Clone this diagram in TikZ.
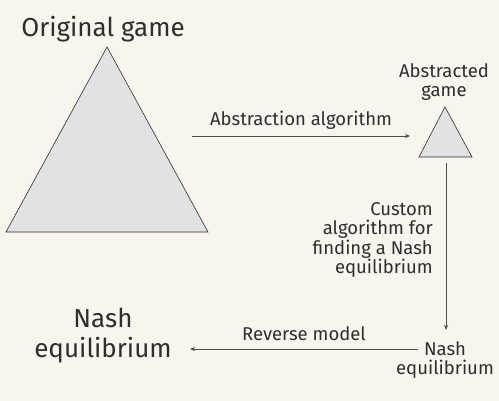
\documentclass[tikz,border=0pt]{standalone}
\usepackage{fontspec}
\setmainfont{Fira Sans}
\usetikzlibrary{arrows.meta}
\definecolor{paper}{HTML}{F8F5EE}
\definecolor{gamefill}{HTML}{E2E2E4}
\definecolor{ink}{HTML}{2E2E2E}
\begin{document}
\begin{tikzpicture}[x=1pt,y=-1pt,
  big/.style={font=\fontsize{26}{30}\selectfont, align=center, inner sep=0pt, text=ink},
  small/.style={font=\fontsize{18.5}{19.3}\selectfont, align=center, inner sep=0pt, text=ink},
  flow/.style={draw=ink!85, line width=0.6pt, -{Stealth[length=5pt,width=4pt]}},
  game/.style={draw=ink, fill=gamefill, line width=0.6pt}]
\fill[paper] (0,0) rectangle (499,401);
\useasboundingbox (0,0) rectangle (499,401);
% the two games
\draw[game] (107,47) -- (208,232) -- (6,232) -- cycle;
\draw[game] (445,107) -- (472,157) -- (419,157) -- cycle;
\node[big] (orig) at (103,29) {Original game};
\node[small] (abst) at (444,82) {Abstracted\\game};
\node[big] (nashbig) at (103,336) {Nash\\equilibrium};
\node[small] (nashsmall) at (445,360) {Nash\\equilibrium};
% arrow ends
\coordinate (origout) at (192,136);
\coordinate (abstin) at (410,136);
\coordinate (abstout) at (446,163);
\coordinate (nashin) at (446,330);
\coordinate (nashout) at (418,349);
\coordinate (backin) at (190,349);
\draw[flow] (origout) -- (abstin) node[small, midway, above=6pt] (lbla) {Abstraction algorithm};
\draw[flow] (abstout) -- (nashin);
\node[small, align=right, anchor=east] (lblc) at (433,240) {Custom\\algorithm for\\finding a Nash\\equilibrium};
\draw[flow] (nashout) -- (backin) node[small, midway, above=8pt] (lblr) {Reverse model};
\end{tikzpicture}
\end{document}
